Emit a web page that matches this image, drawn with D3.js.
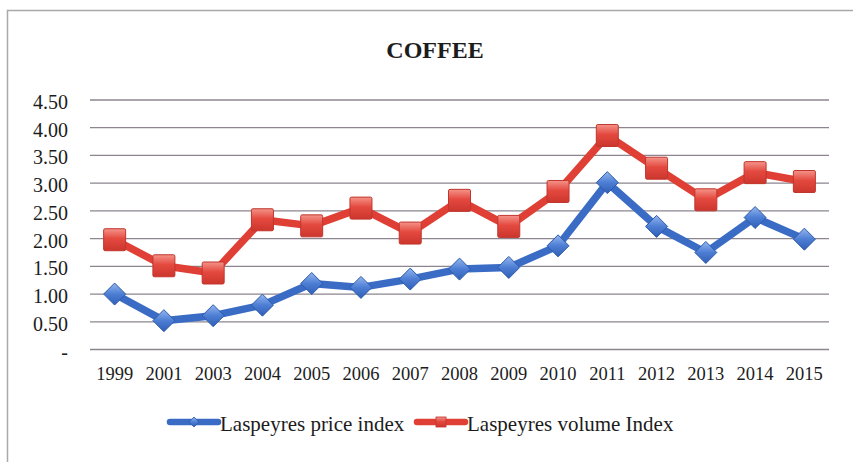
<!DOCTYPE html>
<html>
<head>
<meta charset="utf-8">
<script src="https://cdn.jsdelivr.net/npm/d3@7"></script>
<style>
  html, body { margin: 0; padding: 0; background: #fff; }
  svg { display: block; }
</style>
</head>
<body>
<svg id="chart" width="853" height="462"></svg>
<script>
// Coffee indices by year
const years = ["1999","2001","2003","2004","2005","2006","2007","2008","2009","2010","2011","2012","2013","2014","2015"];
const priceIndex  = [1.00, 0.52, 0.61, 0.80, 1.19, 1.12, 1.27, 1.45, 1.48, 1.87, 3.01, 2.22, 1.75, 2.38, 1.99];
const volumeIndex = [1.98, 1.51, 1.38, 2.34, 2.23, 2.55, 2.10, 2.69, 2.22, 2.85, 3.86, 3.27, 2.70, 3.19, 3.03];
const yTicks = [0, 0.5, 1, 1.5, 2, 2.5, 3, 3.5, 4, 4.5];
const seriesNames = ["Laspeyres price index", "Laspeyres volume Index"];

const FONT = "'Liberation Serif', 'Times New Roman', serif";
const INK = "#1c1c1c";

const svg = d3.select("#chart");
const W = 853, H = 462;

// Outer frame
svg.append("rect").attr("x", 7.5).attr("y", 10.5).attr("width", W).attr("height", H)
  .attr("fill", "#fff").attr("stroke", "#a9a9a9").attr("stroke-width", 1.5);

const defs = svg.append("defs");
const gRed = defs.append("linearGradient").attr("id", "gRed").attr("x1", 0).attr("y1", 0).attr("x2", 0).attr("y2", 1);
gRed.append("stop").attr("offset", "0%").attr("stop-color", "#f4948a");
gRed.append("stop").attr("offset", "45%").attr("stop-color", "#e4493f");
gRed.append("stop").attr("offset", "100%").attr("stop-color", "#cc362d");
const gBlue = defs.append("linearGradient").attr("id", "gBlue").attr("x1", 0).attr("y1", 0).attr("x2", 0).attr("y2", 1);
gBlue.append("stop").attr("offset", "0%").attr("stop-color", "#94b6ee");
gBlue.append("stop").attr("offset", "50%").attr("stop-color", "#4d7ed4");
gBlue.append("stop").attr("offset", "100%").attr("stop-color", "#2f5fb6");

const plot = { left: 90, right: 829, top: 100, bottom: 349.5 };

const x = d3.scaleBand().domain(years).range([plot.left, plot.right]);
const y = d3.scaleLinear().domain([0, 4.5]).range([plot.bottom, plot.top]);
const cx = d => x(d) + x.bandwidth() / 2;

// Gridlines
svg.append("g").selectAll("line").data(yTicks).join("line")
  .attr("x1", plot.left).attr("x2", plot.right)
  .attr("y1", d => y(d)).attr("y2", d => y(d))
  .attr("stroke", "#8c8590").attr("stroke-width", 1.3);

// Y axis labels
const fmt = d => d === 0 ? "-" : d3.format(".2f")(d);
const yAxis = d3.axisLeft(y).tickValues(yTicks).tickFormat(fmt).tickSize(0).tickPadding(0);
const gy = svg.append("g").attr("transform", "translate(68,1.5)").call(yAxis);
gy.select(".domain").remove();
gy.selectAll("text").style("font-family", FONT).style("font-size", "20px").style("fill", INK)
  .attr("dy", "0.35em");

// X axis labels
const xAxis = d3.axisBottom(x).tickSize(0).tickPadding(0);
const gx = svg.append("g").attr("transform", "translate(0,374)").call(xAxis);
gx.select(".domain").remove();
gx.selectAll("text").style("font-family", FONT).style("font-size", "18.5px").style("fill", INK)
  .attr("dy", "0.35em");

// Title
svg.append("text").attr("x", 435).attr("y", 58).attr("text-anchor", "middle")
  .style("font-family", FONT).style("font-size", "24px").style("font-weight", "bold").style("fill", INK)
  .text("COFFEE");

const line = d3.line().x((d, i) => cx(years[i])).y(d => y(d));

// Price index series
svg.append("path").datum(priceIndex).attr("d", line)
  .attr("fill", "none").attr("stroke", "#3a6cc6").attr("stroke-width", 7.5)
  .attr("stroke-linejoin", "round");
// Volume index series
svg.append("path").datum(volumeIndex).attr("d", line)
  .attr("fill", "none").attr("stroke", "#df3f35").attr("stroke-width", 7.5)
  .attr("stroke-linejoin", "round");

// Diamond markers
const dsz = 11;
svg.append("g").selectAll("path").data(priceIndex).join("path")
  .attr("d", `M0,${-dsz}L${dsz},0L0,${dsz}L${-dsz},0Z`)
  .attr("transform", (d, i) => `translate(${cx(years[i])},${y(d)})`)
  .attr("fill", "url(#gBlue)").attr("stroke", "#2d5aaa").attr("stroke-width", 1);

// Square markers
const ssz = 11;
svg.append("g").selectAll("rect").data(volumeIndex).join("rect")
  .attr("x", (d, i) => cx(years[i]) - ssz).attr("y", d => y(d) - ssz)
  .attr("width", ssz * 2).attr("height", ssz * 2).attr("rx", 1.5)
  .attr("fill", "url(#gRed)").attr("stroke", "#c0362d").attr("stroke-width", 1);

// Legend
const legend = [
  { name: seriesNames[0], color: "#3a6cc6", x0: 170, kind: "diamond" },
  { name: seriesNames[1], color: "#df3f35", x0: 417, kind: "square" }
];
const ly = 422;
const lg = svg.append("g");
legend.forEach(l => {
  lg.append("line").attr("x1", l.x0).attr("x2", l.x0 + 48).attr("y1", ly).attr("y2", ly)
    .attr("stroke", l.color).attr("stroke-width", 6.5).attr("stroke-linecap", "round");
  if (l.kind === "diamond") {
    lg.append("path").attr("d", "M0,-5L5,0L0,5L-5,0Z")
      .attr("transform", `translate(${l.x0 + 24},${ly})`)
      .attr("fill", "url(#gBlue)").attr("stroke", "#2d5aaa").attr("stroke-width", 0.8);
  } else {
    lg.append("rect").attr("x", l.x0 + 19).attr("y", ly - 5).attr("width", 10).attr("height", 10)
      .attr("fill", "url(#gRed)").attr("stroke", "#c0362d").attr("stroke-width", 0.8);
  }
  lg.append("text").attr("x", l.x0 + 50).attr("y", ly + 1.5).attr("dy", "0.35em")
    .style("font-family", FONT).style("font-size", "21px").style("fill", INK)
    .text(l.name);
});
</script>
</body>
</html>
